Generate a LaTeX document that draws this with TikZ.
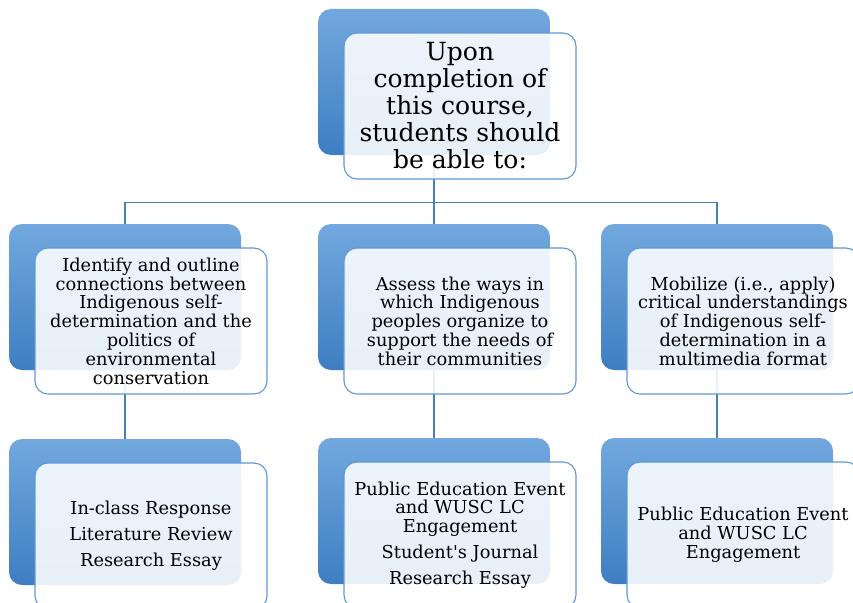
\documentclass[tikz,border=0pt]{standalone}
\usepackage{fontspec}
\setmainfont{DejaVu Serif}
\usetikzlibrary{positioning}
\definecolor{backtop}{HTML}{72A8DE}
\definecolor{backbottom}{HTML}{3E7EC1}
\definecolor{frameblue}{HTML}{5F98D6}
\definecolor{linkblue}{HTML}{4B7DB8}

\begin{document}
\begin{tikzpicture}[x=1pt, y=-1pt,
    backbox/.style={rounded corners=13pt, minimum width=232pt, minimum height=146pt,
        inner sep=0pt, top color=backtop, bottom color=backbottom},
    frontbox/.style={draw=frameblue, line width=1.1pt, fill=white, fill opacity=0.88,
        text opacity=1, rounded corners=13pt, minimum width=232pt, minimum height=146pt,
        inner sep=0pt, align=center, shift={(26,24)},
        font=\fontsize{17.8}{18.8}\selectfont},
    link/.style={draw=linkblue, line width=1.2pt}]
    \useasboundingbox (0,0) rectangle (853,602);
    \clip (0,0) rectangle (853,602);

    % back boxes
    \node[backbox] (goalB) at (434,82) {};
    \node[backbox] (aimAB) at (125,297) {};
    \node[backbox] (aimBB) at (434,297) {};
    \node[backbox] (aimCB) at (717,297) {};
    \node[backbox] (taskAB) at (125,512) {};
    \node[backbox] (taskBB) at (434,511) {};
    \node[backbox] (taskCB) at (717,511) {};

    % connectors
    \draw[link] (goalB.south) -- ++(0,47) coordinate (split);
    \draw[link] (split) -| (aimAB.north);
    \draw[link] (split) -| (aimCB.north);
    \draw[link] (split) -- (aimBB.north);
    \draw[link] (aimAB.south) -- (taskAB.north);
    \draw[link] (aimBB.south) -- (taskBB.north);
    \draw[link] (aimCB.south) -- (taskCB.north);

    % front boxes
    \node[frontbox, font=\fontsize{25}{27}\selectfont] (goal) at (goalB)
        {Upon\\completion of\\this course,\\students should\\be able to:};
    \node[frontbox] (aimA) at (aimAB)
        {Identify and outline\\connections between\\Indigenous self-\\determination and the\\politics of\\environmental\\conservation};
    \node[frontbox] (aimB) at (aimBB)
        {Assess the ways in\\which Indigenous\\peoples organize to\\support the needs of\\their communities};
    \node[frontbox] (aimC) at (aimCB)
        {Mobilize (i.e., apply)\\critical understandings\\of Indigenous self-\\determination in a\\multimedia format};
    \node[frontbox] (taskA) at (taskAB)
        {In-class Response\\[7pt]Literature Review\\[7pt]Research Essay};
    \node[frontbox] (taskB) at (taskBB)
        {Public Education Event\\and WUSC LC\\Engagement\\[7pt]Student\textquotesingle s Journal\\[7pt]Research Essay};
    \node[frontbox] (taskC) at (taskCB)
        {Public Education Event\\and WUSC LC\\Engagement};
\end{tikzpicture}
\end{document}
